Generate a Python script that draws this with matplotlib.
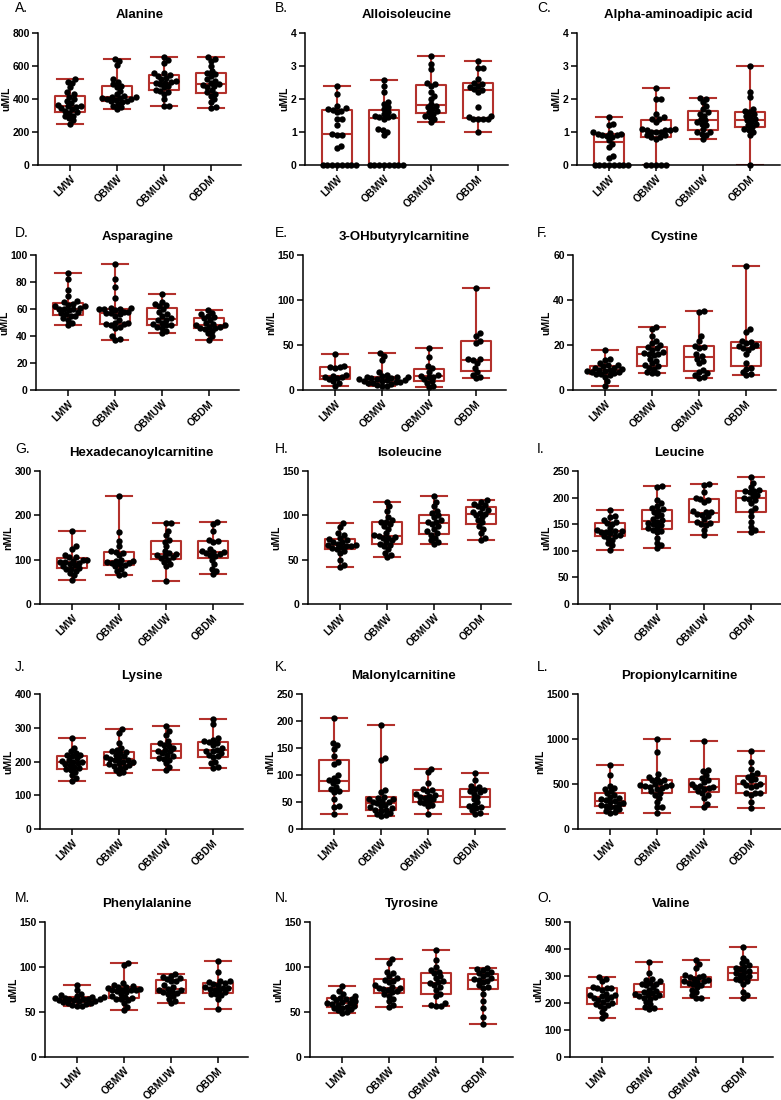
import matplotlib.pyplot as plt
import numpy as np

plt.rcParams['font.family'] = ['Liberation Sans', 'DejaVu Sans']

groups = ['LMW', 'OBMW', 'OBMUW', 'OBDM']

# values, one list per group: LMW, OBMW, OBMUW, OBDM
alanine = [
    [250, 270, 285, 295, 300, 315, 320, 330, 340, 345, 350, 355, 360, 365, 375, 385, 400, 415, 430, 440, 470, 495, 505, 520],
    [340, 350, 360, 370, 380, 385, 390, 395, 398, 400, 405, 408, 410, 415, 420, 430, 450, 470, 480, 490, 505, 520, 605, 630, 640],
    [355, 360, 400, 430, 445, 450, 455, 470, 480, 490, 495, 500, 505, 510, 520, 530, 540, 545, 555, 560, 620, 635, 655],
    [345, 350, 380, 400, 420, 430, 440, 455, 470, 480, 485, 490, 500, 510, 520, 540, 550, 560, 570, 600, 630, 640, 655],
]
alloisoleucine = [
    [0, 0, 0, 0, 0, 0, 0, 0, 0.53, 0.58, 0.9, 0.92, 0.95, 1.2, 1.38, 1.4, 1.6, 1.65, 1.68, 1.7, 1.72, 1.78, 2.15, 2.4],
    [0, 0, 0, 0, 0, 0, 0, 0, 0.9, 1.0, 1.05, 1.1, 1.4, 1.45, 1.45, 1.5, 1.5, 1.55, 1.6, 1.7, 1.75, 1.85, 1.9, 2.2, 2.4, 2.57],
    [1.3, 1.4, 1.45, 1.5, 1.55, 1.6, 1.65, 1.7, 1.75, 1.8, 1.85, 2.0, 2.1, 2.2, 2.4, 2.45, 2.5, 2.9, 3.05, 3.3],
    [1.0, 1.4, 1.4, 1.4, 1.4, 1.45, 1.5, 1.75, 2.2, 2.28, 2.3, 2.35, 2.4, 2.45, 2.5, 2.6, 2.95, 2.95, 3.15],
]
aminoadipic = [
    [0, 0, 0, 0, 0, 0, 0, 0, 0.2, 0.28, 0.55, 0.65, 0.75, 0.85, 0.88, 0.9, 0.92, 0.95, 0.95, 0.98, 1.0, 1.2, 1.25, 1.45],
    [0, 0, 0, 0, 0, 0.8, 0.85, 0.85, 0.9, 0.9, 1.0, 1.0, 1.0, 1.05, 1.05, 1.05, 1.1, 1.1, 1.3, 1.4, 1.4, 1.45, 1.55, 2.0, 2.0, 2.33],
    [0.8, 0.9, 0.95, 1.0, 1.0, 1.1, 1.2, 1.25, 1.3, 1.35, 1.4, 1.5, 1.55, 1.6, 1.7, 1.8, 1.9, 2.0, 2.02],
    [0, 0.9, 1.0, 1.05, 1.1, 1.15, 1.2, 1.25, 1.3, 1.35, 1.4, 1.45, 1.5, 1.55, 1.6, 1.65, 1.7, 2.05, 2.2, 3.0],
]
asparagine = [
    [48, 50, 52, 53, 55, 55, 56, 57, 58, 59, 60, 60, 60, 61, 62, 62, 63, 64, 65, 66, 70, 74, 82, 87],
    [37, 38, 40, 46, 47, 48, 49, 49, 50, 50, 52, 55, 56, 57, 57, 58, 58, 59, 60, 60, 60, 61, 61, 68, 76, 82, 93],
    [42, 44, 46, 47, 48, 48, 49, 50, 52, 52, 53, 55, 56, 58, 60, 62, 63, 64, 65, 71],
    [37, 40, 42, 44, 45, 46, 46, 47, 47, 48, 48, 49, 50, 52, 53, 54, 55, 56, 57, 59],
]
ohbutyryl = [
    [5, 8, 10, 12, 13, 14, 15, 16, 17, 25, 26, 26, 27, 40],
    [4, 5, 6, 7, 8, 8, 9, 9, 10, 10, 11, 11, 12, 12, 13, 13, 14, 15, 15, 16, 17, 20, 33, 38, 41],
    [3, 5, 8, 10, 12, 14, 15, 16, 17, 20, 24, 27, 37, 47],
    [13, 15, 17, 20, 25, 30, 33, 34, 35, 52, 55, 60, 63, 113],
]
cystine = [
    [2, 4, 6, 6.5, 7, 7, 7.5, 8, 8, 8.5, 8.5, 9, 9, 9.5, 10, 10, 10.5, 11, 11, 12, 13.5, 14, 18],
    [7.5, 7.5, 8, 9.5, 10, 10.5, 11, 12, 13, 14, 15.5, 16, 16, 16.5, 17, 18, 18.5, 19, 20, 21, 22, 24, 27, 28],
    [5.5, 6, 6.5, 7.5, 8, 9, 12, 13, 14, 15, 16, 18.5, 19, 19.5, 22, 24, 34.5, 35],
    [6.5, 7, 8, 9.5, 10, 12, 16, 18, 18.5, 19, 19.5, 20, 21, 21.5, 22, 26, 27, 55],
]
hexadecanoyl = [
    [55, 65, 70, 75, 78, 80, 82, 85, 88, 90, 93, 95, 95, 98, 100, 100, 105, 105, 110, 125, 130, 165],
    [65, 68, 75, 80, 85, 88, 90, 92, 93, 95, 96, 98, 100, 110, 115, 118, 120, 130, 143, 162, 243],
    [52, 85, 90, 95, 100, 103, 105, 108, 110, 112, 115, 120, 130, 140, 145, 155, 165, 182, 183],
    [67, 75, 80, 90, 100, 108, 110, 112, 115, 117, 118, 120, 125, 140, 142, 145, 165, 180, 186],
]
isoleucine = [
    [42, 44, 50, 58, 60, 62, 63, 64, 65, 65, 66, 67, 68, 70, 70, 72, 73, 75, 78, 80, 87, 91],
    [53, 55, 58, 62, 65, 67, 68, 70, 72, 74, 75, 76, 77, 78, 80, 85, 88, 90, 92, 93, 95, 98, 105, 110, 115],
    [68, 70, 72, 75, 78, 80, 82, 85, 88, 90, 92, 93, 95, 98, 100, 103, 105, 110, 115, 122],
    [72, 75, 80, 85, 88, 92, 95, 98, 100, 102, 103, 104, 106, 108, 110, 112, 113, 115, 117],
]
leucine = [
    [102, 110, 115, 120, 125, 127, 128, 130, 133, 135, 136, 137, 138, 140, 142, 150, 152, 155, 158, 163, 165, 177],
    [105, 110, 115, 125, 135, 138, 140, 142, 145, 148, 150, 152, 155, 157, 160, 165, 168, 172, 175, 178, 180, 185, 190, 195, 220, 222],
    [130, 140, 148, 150, 152, 155, 160, 165, 168, 170, 172, 173, 175, 192, 196, 198, 200, 210, 224, 225],
    [135, 140, 145, 155, 165, 175, 180, 190, 195, 198, 200, 203, 205, 210, 212, 213, 215, 220, 228, 238],
]
lysine = [
    [142, 150, 160, 170, 175, 178, 180, 185, 190, 192, 195, 198, 200, 202, 205, 210, 215, 218, 220, 225, 230, 240, 270],
    [165, 170, 175, 180, 185, 188, 190, 192, 195, 198, 200, 203, 205, 208, 210, 212, 215, 220, 225, 228, 230, 235, 240, 255, 285, 295],
    [175, 185, 195, 205, 208, 210, 215, 220, 225, 230, 232, 235, 240, 245, 250, 255, 260, 280, 290, 305],
    [182, 185, 195, 200, 212, 215, 220, 225, 230, 232, 235, 240, 250, 255, 258, 260, 265, 270, 310, 325],
]
malonyl = [
    [27, 40, 42, 55, 68, 70, 75, 78, 85, 88, 90, 95, 100, 120, 125, 135, 148, 155, 160, 205],
    [24, 26, 28, 30, 33, 35, 36, 38, 40, 42, 45, 48, 50, 50, 52, 55, 56, 58, 60, 68, 72, 128, 132, 192],
    [27, 42, 45, 48, 50, 52, 55, 58, 60, 62, 63, 65, 70, 72, 75, 85, 105, 112],
    [28, 30, 35, 38, 40, 42, 45, 50, 55, 60, 65, 68, 70, 72, 75, 78, 80, 90, 103],
]
propionyl = [
    [180, 190, 200, 220, 240, 250, 260, 270, 280, 290, 300, 310, 320, 330, 340, 360, 380, 400, 420, 450, 460, 480, 600, 710],
    [180, 240, 250, 300, 350, 380, 400, 420, 450, 460, 470, 475, 480, 485, 490, 500, 520, 540, 550, 560, 580, 610, 860, 995],
    [240, 280, 350, 380, 400, 420, 450, 460, 465, 470, 480, 500, 520, 550, 570, 600, 640, 660, 975],
    [235, 300, 380, 400, 400, 405, 470, 480, 490, 500, 520, 540, 560, 580, 600, 620, 670, 740, 865],
]
phenylalanine = [
    [57, 57, 58, 59, 60, 60, 61, 62, 62, 63, 63, 64, 64, 65, 65, 66, 66, 67, 67, 68, 69, 70, 74, 80],
    [52, 56, 60, 63, 64, 65, 66, 67, 68, 70, 72, 73, 74, 74, 75, 75, 76, 77, 78, 78, 79, 80, 82, 102, 105],
    [60, 62, 65, 68, 70, 71, 72, 73, 74, 75, 76, 78, 80, 84, 85, 87, 88, 89, 90, 92],
    [53, 65, 69, 70, 70, 72, 74, 75, 76, 77, 77, 78, 80, 81, 82, 83, 84, 85, 95, 107],
]
tyrosine = [
    [49, 50, 52, 53, 54, 55, 56, 57, 58, 59, 60, 60, 61, 62, 63, 64, 65, 66, 67, 68, 70, 73, 79],
    [56, 58, 62, 65, 68, 70, 72, 73, 75, 76, 77, 77, 78, 80, 83, 85, 86, 88, 90, 93, 95, 105, 109],
    [57, 57, 58, 60, 68, 70, 75, 78, 80, 82, 83, 85, 88, 90, 93, 95, 97, 100, 108, 119],
    [37, 45, 55, 62, 70, 77, 78, 80, 83, 85, 86, 87, 88, 90, 92, 93, 95, 97, 98, 99],
]
valine = [
    [143, 155, 165, 180, 190, 192, 195, 200, 205, 210, 215, 220, 222, 225, 228, 230, 235, 250, 255, 256, 255, 260, 280, 290, 295],
    [178, 180, 185, 195, 205, 215, 220, 222, 225, 228, 230, 235, 238, 240, 245, 250, 258, 265, 270, 272, 275, 280, 285, 290, 310, 352],
    [218, 220, 230, 240, 250, 258, 265, 270, 275, 278, 280, 282, 285, 290, 295, 298, 300, 305, 330, 345, 360],
    [220, 228, 240, 270, 280, 285, 290, 295, 300, 305, 310, 315, 320, 325, 330, 335, 340, 350, 355, 368, 408],
]

# letter, title, unit, y max, y step, data
panels = [
    ('A.', 'Alanine', 'uM/L', 800, 200, alanine),
    ('B.', 'Alloisoleucine', 'uM/L', 4, 1, alloisoleucine),
    ('C.', 'Alpha-aminoadipic acid', 'uM/L', 4, 1, aminoadipic),
    ('D.', 'Asparagine', 'uM/L', 100, 20, asparagine),
    ('E.', '3-OHbutyrylcarnitine', 'nM/L', 150, 50, ohbutyryl),
    ('F.', 'Cystine', 'uM/L', 60, 20, cystine),
    ('G.', 'Hexadecanoylcarnitine', 'nM/L', 300, 100, hexadecanoyl),
    ('H.', 'Isoleucine', 'uM/L', 150, 50, isoleucine),
    ('I.', 'Leucine', 'uM/L', 250, 50, leucine),
    ('J.', 'Lysine', 'uM/L', 400, 100, lysine),
    ('K.', 'Malonylcarnitine', 'nM/L', 250, 50, malonyl),
    ('L.', 'Propionylcarnitine', 'nM/L', 1500, 500, propionyl),
    ('M.', 'Phenylalanine', 'uM/L', 150, 50, phenylalanine),
    ('N.', 'Tyrosine', 'uM/L', 150, 50, tyrosine),
    ('O.', 'Valine', 'uM/L', 500, 100, valine),
]

# layout in pixels
W, H = 781, 1100
lefts = [[38, 305, 577], [36, 303, 573], [40, 308, 578], [40, 302, 578], [45, 310, 570]]
rows = [(33, 165), (255, 390), (471, 604), (694, 829), (922, 1057)]
axw = 203
letter_x = [15, 275, 537]
letter_y = [8, 233, 449, 667, 898]
XLIM = (-0.68, 3.64)
RED = '#b3312c'
DOT = 4.8  # px spacing of dots in the swarm


def swarm_offsets(vals, px_per_unit, d):
    # simple beeswarm, offsets in pixels
    vals = np.asarray(vals, dtype=float)
    order = np.argsort(vals, kind='stable')
    placed = []
    offs = np.zeros(len(vals))
    for i in order:
        y = vals[i] * px_per_unit
        near = [(px, py) for px, py in placed if abs(py - y) < d]
        cands = [0.0]
        for px, py in near:
            dx = np.sqrt(d * d - (py - y) ** 2)
            cands += [px + dx, px - dx]
        cands.sort(key=lambda c: (round(abs(c), 3), -c))
        chosen = cands[-1]
        for c in cands:
            if all((c - px) ** 2 + (y - py) ** 2 >= d * d - 1e-6 for px, py in near):
                chosen = c
                break
        placed.append((chosen, y))
        offs[i] = chosen
    return offs


fig = plt.figure(figsize=(W / 100, H / 100), dpi=100)

for k, (letter, title, unit, ymax, ystep, data) in enumerate(panels):
    r, c = divmod(k, 3)
    top, bot = rows[r]
    left = lefts[r][c]
    ax = fig.add_axes([left / W, 1 - bot / H, axw / W, (bot - top) / H])

    ax.boxplot(data, positions=range(4), widths=0.64, capwidths=0.55,
               whis=(0, 100), showfliers=False,
               boxprops=dict(color=RED, linewidth=1.5),
               whiskerprops=dict(color=RED, linewidth=1.5),
               capprops=dict(color=RED, linewidth=1.5),
               medianprops=dict(color=RED, linewidth=1.5),
               zorder=2)

    ypx = (bot - top) / ymax
    xpx = axw / (XLIM[1] - XLIM[0])
    for i, vals in enumerate(data):
        off = swarm_offsets(vals, ypx, DOT) / xpx
        ax.scatter(i + off, vals, s=21, color='black', linewidths=0, zorder=3,
                   clip_on=False)

    ax.set_xlim(*XLIM)
    ax.set_ylim(0, ymax)
    ax.set_yticks(np.arange(0, ymax + ystep / 2, ystep))
    ax.set_xticks(range(4))
    ax.set_xticklabels(groups, rotation=45, ha='right', rotation_mode='anchor')
    for lab in ax.get_xticklabels() + ax.get_yticklabels():
        lab.set_fontweight('bold')
    ax.tick_params(axis='both', width=1.1, length=4, labelsize=7.5, pad=2)
    for s in ['top', 'right']:
        ax.spines[s].set_visible(False)
    for s in ['left', 'bottom']:
        ax.spines[s].set_linewidth(1.1)
    ax.set_ylabel(unit, fontsize=7.5, fontweight='bold', labelpad=1)
    ax.set_title(title, fontsize=9.5, fontweight='bold', pad=11)

    fig.text(letter_x[c] / W, 1 - letter_y[r] / H, letter, fontsize=10,
             ha='left', va='center')

fig.savefig('out.png', dpi=100)
